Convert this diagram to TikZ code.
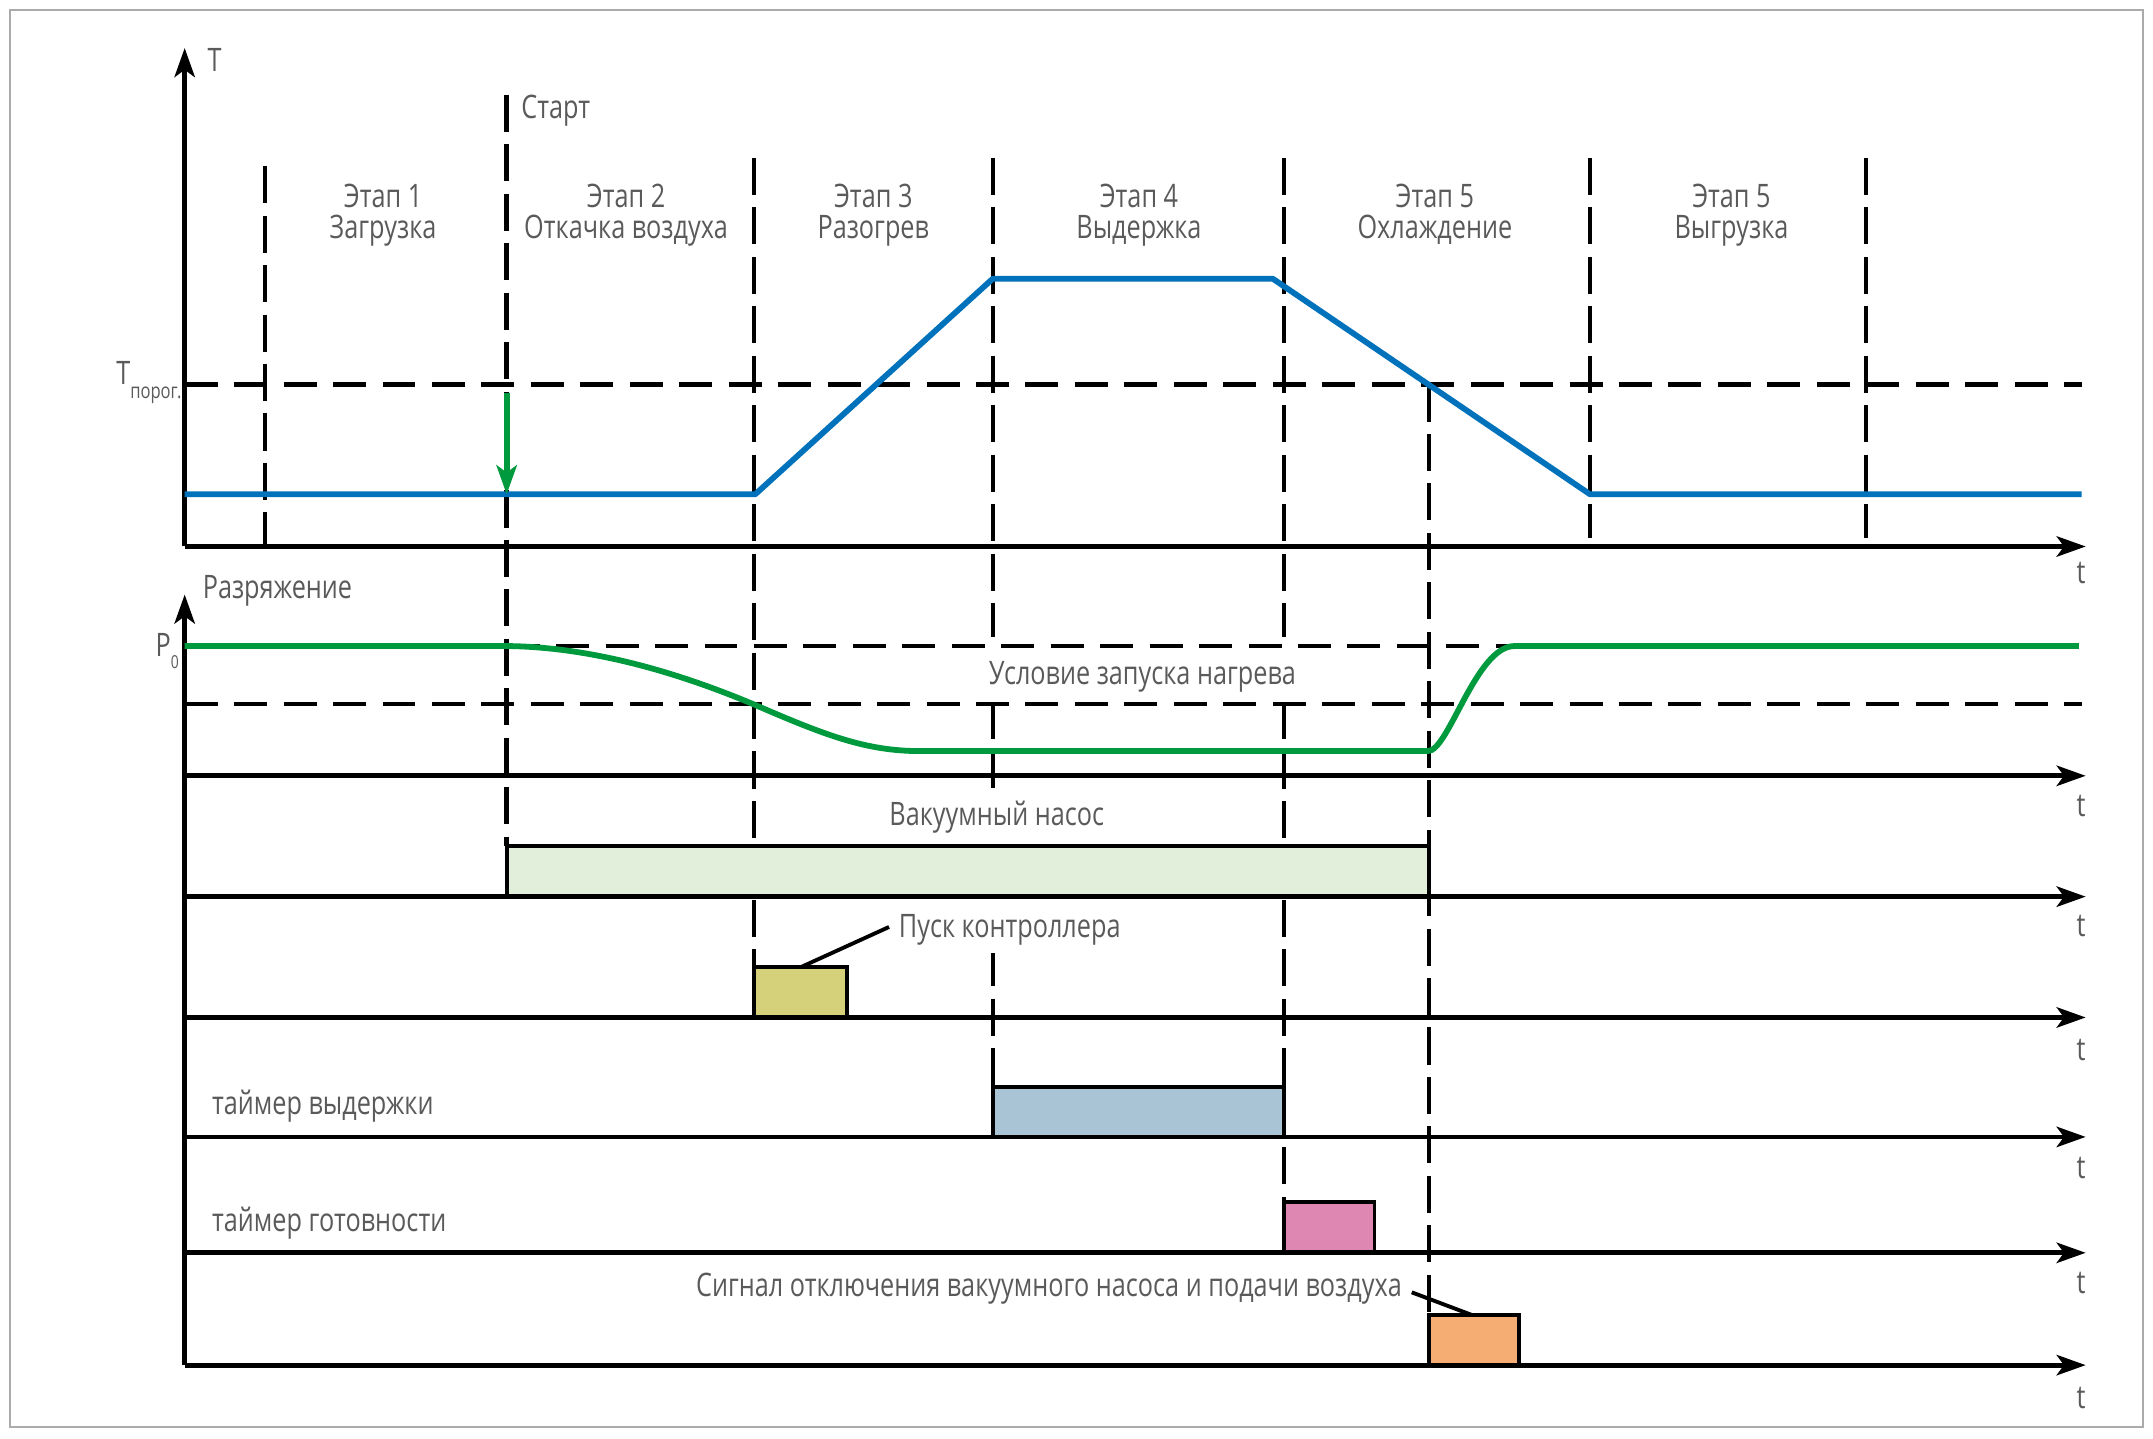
\documentclass[tikz,border=0pt]{standalone}
\usepackage{fontspec}
\setmainfont{Open Sans}[FakeStretch=0.78]
\usepackage{xcolor}
\usepackage{tikz}
\usetikzlibrary{arrows.meta}
\definecolor{BlueTemp}{HTML}{0072BC}
\definecolor{GreenVac}{HTML}{009A3E}
\definecolor{PumpFill}{HTML}{E2EFDA}
\definecolor{CtrlFill}{HTML}{D4D17A}
\definecolor{HoldFill}{HTML}{A9C4D4}
\definecolor{ReadyFill}{HTML}{DE87B3}
\definecolor{SignalFill}{HTML}{F5AD74}
\definecolor{LabelGrey}{HTML}{5A5A5A}
\definecolor{FrameGrey}{HTML}{ABABAB}
\tikzset{
  taxis/.style = {line width = 1pt},
  stageline/.style = {line width = .9pt, dash pattern = on .27cm off .09cm},
  thresh/.style = {line width = .85pt, dash pattern = on .24cm off .12cm},
  lbl/.style = {text = LabelGrey, inner sep = 0, font = \fontsize{6.7pt}{6.7pt}\selectfont},
  masked/.style = {fill = white, inner xsep = .03cm},
  sigbox/.style = {draw = black, line width = .8pt},
  leader/.style = {line width = .8pt}
}

\begin{document}
\begin{tikzpicture}[x = .01cm, y = -.01cm,
    >={Stealth[length = 6pt, width = 4.2pt, inset = 1.5pt]}]
  \useasboundingbox (0,0) rectangle (1568,1048);
  \draw[FrameGrey, fill = white, line width = .4pt] (7,7) rectangle (1561,1039);

  \draw[stageline] (193,121) -- (193,398);
  \draw[stageline] (369,69) -- (369,616);
  \draw[stageline] (549,115) -- (549,704);
  \draw[stageline] (723,115) -- (723,791);
  \draw[stageline] (935,115) -- (935,875);
  \draw[stageline] (1040.5,280) -- (1040.5,958);
  \draw[stageline] (1158,115) -- (1158,392);
  \draw[stageline] (1359,115) -- (1359,392);

  \node[lbl, masked, anchor = base, text height = .2cm, text depth = 0pt, inner ysep = .145cm]
    (cond) at (832,498.5) {Условие запуска нагрева};
  \node[lbl, masked, anchor = base, inner ysep = .1cm] (pump) at (726,601.4) {Вакуумный насос};
  \node[lbl, masked, anchor = base west, text height = .24cm, text depth = .05cm, inner ysep = .06cm]
    (ctrl) at (651,683) {Пуск контроллера};

  \draw[thresh] (134.5,280) -- (1516,280);
  \draw[thresh] (369,470.5) -- (1516,470.5);
  \draw[thresh] (134.5,513) -- (1516,513);

  \draw[sigbox, fill = PumpFill] (369,653) rectangle (1040.5,616);
  \draw[sigbox, fill = CtrlFill] (549,741) rectangle (617,704);
  \draw[sigbox, fill = HoldFill] (723,828) rectangle (935,791.5);
  \draw[sigbox, fill = ReadyFill] (935,912.4) rectangle (1001,875.4);
  \draw[sigbox, fill = SignalFill] (1040.5,994.2) rectangle (1106,957.7);

  \draw[taxis, ->] (134.5,398) -- (134.5,35);
  \draw[taxis, ->] (134.5,994.2) -- (134.5,433);
  \draw[taxis, ->] (134.5,398) -- (1519,398);
  \draw[taxis, ->] (134.5,565) -- (1519,565);
  \draw[taxis, ->] (134.5,653) -- (1519,653);
  \draw[taxis, ->] (134.5,741) -- (1519,741);
  \draw[taxis, ->] (134.5,828) -- (1519,828);
  \draw[taxis, ->] (134.5,912.4) -- (1519,912.4);
  \draw[taxis, ->] (134.5,994.2) -- (1519,994.2);

  \draw[BlueTemp, line width = 1.2pt, line join = round]
    (134.5,360) -- (550,360) -- (723,203) -- (927,203) -- (1158,360) -- (1516,360);

  \draw[GreenVac, line width = 1.2pt]
    (134.5,470.5) -- (369,470.5)
    .. controls (420,471) and (480,484) .. (549,513)
    .. controls (600,535) and (630,547) .. (670,547) -- (1040,547)
    .. controls (1055,547) and (1075,470.5) .. (1103,470.5) -- (1514,470.5);

  \draw[GreenVac, line width = 1.2pt, ->] (369,286) -- (369,360);

  \node[lbl, anchor = base west] (tname) at (150.5,52) {T};
  \node[lbl, anchor = base west] (start) at (379,86.5) {Старт};

  \node[lbl, anchor = base] (st1) at (279,151) {Этап 1};
  \node[lbl, anchor = base] (st1b) at (279,174) {Загрузка};
  \node[lbl, anchor = base] (st2) at (456,151) {Этап 2};
  \node[lbl, anchor = base] (st2b) at (456,174) {Откачка воздуха};
  \node[lbl, anchor = base] (st3) at (636,151) {Этап 3};
  \node[lbl, anchor = base] (st3b) at (636,174) {Разогрев};
  \node[lbl, anchor = base] (st4) at (829.5,151) {Этап 4};
  \node[lbl, anchor = base] (st4b) at (829.5,174) {Выдержка};
  \node[lbl, anchor = base] (st5) at (1045,151) {Этап 5};
  \node[lbl, anchor = base] (st5b) at (1045,174) {Охлаждение};
  \node[lbl, anchor = base] (st6) at (1261,151) {Этап 5};
  \node[lbl, anchor = base] (st6b) at (1261,174) {Выгрузка};

  \node[lbl, anchor = base west] (tthr) at (84,280)
    {T\lower.1cm\hbox{\fontsize{4.4pt}{4.4pt}\selectfont порог.}};
  \node[lbl, anchor = base west] (vac) at (147,436) {Разряжение};
  \node[lbl, anchor = base west] (pzero) at (112.6,478.3)
    {P\lower.085cm\hbox{\fontsize{3.7pt}{3.7pt}\selectfont 0}};
  \node[lbl, anchor = base west] (hold) at (153.7,812) {таймер выдержки};
  \node[lbl, anchor = base west] (ready) at (153.7,897) {таймер готовности};
  \node[lbl, anchor = base east] (sig) at (1021.6,944.4)
    {Сигнал отключения вакуумного насоса и подачи воздуха};

  \coordinate (ctrlfoot) at (584,704);
  \coordinate (sigfoot) at (1072,957.7);
  \draw[leader, shorten >= 1.1pt] (ctrlfoot) -- (ctrl.west);
  \draw[leader, shorten <= 2pt] (sig.east) -- (sigfoot);

  \node[lbl, anchor = base] (t1) at (1515.7,425) {t};
  \node[lbl, anchor = base] (t2) at (1515.7,595) {t};
  \node[lbl, anchor = base] (t3) at (1515.7,682) {t};
  \node[lbl, anchor = base] (t4) at (1515.7,772) {t};
  \node[lbl, anchor = base] (t5) at (1515.7,858) {t};
  \node[lbl, anchor = base] (t6) at (1515.7,942) {t};
  \node[lbl, anchor = base] (t7) at (1515.7,1026) {t};
\end{tikzpicture}
\end{document}
